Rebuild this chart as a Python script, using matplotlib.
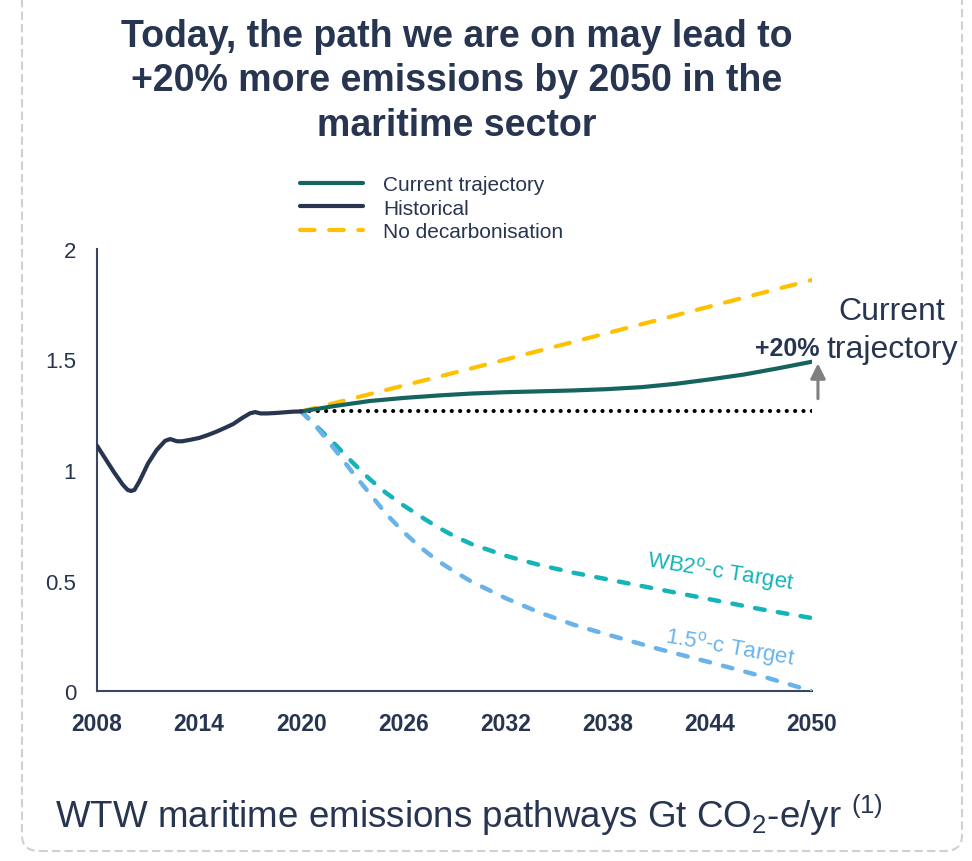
import matplotlib
matplotlib.use("Agg")
import matplotlib.pyplot as plt
from matplotlib.patches import FancyBboxPatch

plt.rcParams["font.family"] = ["Liberation Sans", "DejaVu Sans"]
plt.rcParams["mathtext.fontset"] = "custom"
plt.rcParams["mathtext.rm"] = "Liberation Sans"
plt.rcParams["mathtext.it"] = "Liberation Sans:italic"

NAVY = "#283550"

# Gt CO2-e per year
hist_years = [2008, 2008.5, 2009, 2009.5, 2009.8, 2010, 2010.2, 2010.5, 2011,
              2011.5, 2012, 2012.3, 2012.7, 2013, 2013.5, 2014, 2014.5, 2015,
              2015.5, 2016, 2016.5, 2017, 2017.3, 2017.6, 2018, 2018.5, 2019,
              2019.5, 2020]
hist_vals = [1.11, 1.05, 0.99, 0.935, 0.91, 0.905, 0.91, 0.95, 1.03,
             1.09, 1.132, 1.14, 1.13, 1.13, 1.137, 1.145, 1.158, 1.173,
             1.19, 1.208, 1.234, 1.257, 1.262, 1.256, 1.256, 1.258, 1.261,
             1.264, 1.265]

traj_years = [2020, 2022, 2024, 2026, 2028, 2030, 2032, 2034, 2036, 2038,
              2040, 2042, 2044, 2046, 2048, 2050]
traj_vals = [1.265, 1.29, 1.312, 1.326, 1.337, 1.346, 1.352, 1.356, 1.36, 1.366,
             1.375, 1.39, 1.41, 1.432, 1.46, 1.49]

nodecarb_years = [2020, 2030, 2040, 2050]
nodecarb_vals = [1.265, 1.46, 1.66, 1.86]

target_years = [2020, 2021, 2022, 2023, 2024, 2025, 2026, 2027, 2028, 2029,
                2030, 2032, 2034, 2036, 2038, 2041, 2044, 2047, 2050]
wb2_vals = [1.265, 1.19, 1.115, 1.035, 0.96, 0.895, 0.84, 0.79, 0.742, 0.70,
            0.665, 0.612, 0.57, 0.535, 0.505, 0.46, 0.415, 0.37, 0.33]
c15_vals = [1.265, 1.185, 1.09, 0.99, 0.895, 0.80, 0.72, 0.65, 0.59, 0.54,
            0.495, 0.42, 0.355, 0.30, 0.255, 0.19, 0.13, 0.068, 0.0]

baseline_years = [2020, 2050]
baseline_vals = [1.265, 1.265]

xticks = [2008, 2014, 2020, 2026, 2032, 2038, 2044, 2050]
yticks = [0, 0.5, 1, 1.5, 2]
ytick_labels = ["0", "0.5", "1", "1.5", "2"]

fig = plt.figure(figsize=(9.72, 8.62), dpi=100)
ax = fig.add_axes([97 / 972, 170 / 862, 715 / 972, 442 / 862])

ax.plot(baseline_years, baseline_vals, color="black", lw=3.0,
        linestyle=(0, (0.01, 2.0)), dash_capstyle="round", zorder=2)
ax.plot(target_years, wb2_vals, color="#14b4b8", lw=3.2,
        linestyle=(0, (2.2, 3.0)), dash_capstyle="round", zorder=3)
ax.plot(target_years, c15_vals, color="#6ab3ea", lw=3.2,
        linestyle=(0, (2.2, 3.0)), dash_capstyle="round", zorder=3)
l_nod, = ax.plot(nodecarb_years, nodecarb_vals, color="#ffc000", lw=3.0,
                 linestyle=(0, (3.5, 3.5)), dash_capstyle="round", zorder=3,
                 label="No decarbonisation")
l_traj, = ax.plot(traj_years, traj_vals, color="#16645f", lw=3.0,
                  solid_capstyle="round", zorder=4, label="Current trajectory")
l_hist, = ax.plot(hist_years, hist_vals, color=NAVY, lw=3.0,
                  solid_capstyle="round", solid_joinstyle="round", zorder=5,
                  label="Historical")

ax.set_xlim(2008, 2050)
ax.set_ylim(0, 2)
ax.set_xticks(xticks)
ax.set_xticklabels([str(x) for x in xticks], fontsize=16.5, fontweight="bold",
                   color=NAVY)
ax.set_yticks(yticks)
ax.set_yticklabels(ytick_labels, fontsize=16, color=NAVY)
ax.tick_params(axis="x", length=0, pad=15)
ax.tick_params(axis="y", length=0, pad=15)
for side in ("top", "right"):
    ax.spines[side].set_visible(False)
for side in ("left", "bottom"):
    ax.spines[side].set_color("#3a4660")
    ax.spines[side].set_linewidth(1.5)

# +20% marker at the end of the current trajectory
ax.annotate("", xy=(2050.35, 1.495), xytext=(2050.35, 1.31),
            arrowprops=dict(arrowstyle="-|>,head_length=0.9,head_width=0.45",
                            color="#808080", lw=2.2), annotation_clip=False)
ax.text(2050.45, 1.55, "+20%", fontsize=18, fontweight="bold", color=NAVY,
        ha="right", va="center", clip_on=False)
ax.text(2054.7, 1.633, "Current\ntrajectory", fontsize=23, color=NAVY,
        ha="center", va="center", multialignment="center", linespacing=1.35,
        clip_on=False)

ax.text(2044.6, 0.543, r"WB2$^{\rm o}$-c Target", fontsize=16, color="#14b4b8",
        ha="center", va="center", rotation=-9)
ax.text(2045.2, 0.199, r"1.5$^{\rm o}$-c Target", fontsize=16, color="#6ab3ea",
        ha="center", va="center", rotation=-10)

ax.legend(handles=[l_traj, l_hist, l_nod], loc="upper left",
          bbox_to_anchor=(300 / 972, 1 - 176 / 862), bbox_transform=fig.transFigure,
          frameon=False, fontsize=15, handlelength=3.0, handletextpad=1.0,
          labelspacing=0.22, borderpad=0, borderaxespad=0, labelcolor=NAVY)

fig.text(457 / 972, 1 - 19 / 862,
         "Today, the path we are on may lead to\n+20% more emissions by 2050 in the\nmaritime sector",
         fontsize=27, fontweight="bold", color=NAVY, ha="center", va="top",
         linespacing=1.3)

fig.text(55 / 972, 1 - 815 / 862,
         r"WTW maritime emissions pathways Gt CO$_2$-e/yr $^{(1)}$",
         fontsize=26.5, color=NAVY, ha="left", va="center")

frame = FancyBboxPatch((22 / 972, 10 / 862), 940 / 972, 1.2,
                       boxstyle="round,pad=0,rounding_size=0.018",
                       transform=fig.transFigure, facecolor="none",
                       edgecolor="#d0d0d0", lw=1.5, linestyle=(0, (4, 2)),
                       clip_on=False)
fig.patches.append(frame)

fig.savefig("out.png", dpi=100)
